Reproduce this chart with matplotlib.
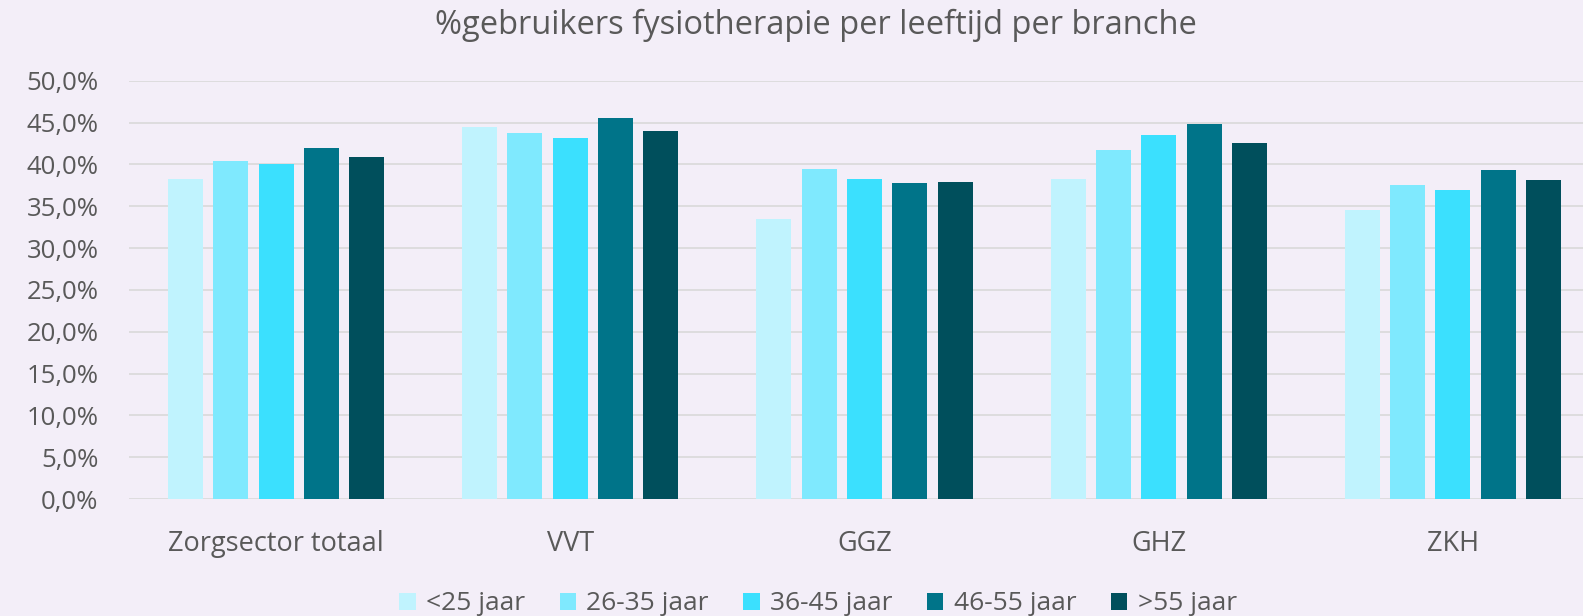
import matplotlib
matplotlib.use("Agg")
import matplotlib.pyplot as plt
import numpy as np
from matplotlib.ticker import FuncFormatter, MultipleLocator

categories = ["Zorgsector totaal", "VVT", "GGZ", "GHZ", "ZKH"]
series_names = ["<25 jaar", "26-35 jaar", "36-45 jaar", "46-55 jaar", ">55 jaar"]
lt25 = [38.2, 44.5, 33.5, 38.2, 34.5]
y26_35 = [40.4, 43.7, 39.4, 41.7, 37.5]
y36_45 = [40.0, 43.1, 38.2, 43.5, 36.9]
y46_55 = [41.9, 45.5, 37.8, 44.8, 39.3]
gt55 = [40.9, 44.0, 37.9, 42.6, 38.1]
colors = ["#C0F3FE", "#7FE9FE", "#3BE0FE", "#007489", "#004F5C"]
title = "%gebruikers fysiotherapie per leeftijd per branche"

plt.rcParams['font.family'] = ['Open Sans', 'DejaVu Sans']
bg = "#F3EEF8"
txt = "#595959"

W, H = 1583, 616
fig = plt.figure(figsize=(W / 100, H / 100), dpi=100, facecolor=bg)
ax = fig.add_axes([129 / W, (H - 499) / H, 1471 / W, 418.3 / H])
ax.set_facecolor(bg)

data = [lt25, y26_35, y36_45, y46_55, gt55]
x = np.arange(len(categories))
width = 0.119
pitch = 0.154
for i, (vals, name, c) in enumerate(zip(data, series_names, colors)):
    ax.bar(x + (i - 2) * pitch, vals, width=width, color=c, label=name, zorder=3)

ax.set_xlim(-0.5, len(categories) - 0.5)
ax.set_ylim(0, 50)
ax.yaxis.set_major_locator(MultipleLocator(5))
ax.yaxis.set_major_formatter(FuncFormatter(lambda v, p: f"{v:.1f}%".replace(".", ",")))
ax.set_xticks(x)
ax.set_xticklabels(categories)
ax.grid(axis='y', color="#D9D9D9", linewidth=1.2, zorder=0)
ax.set_axisbelow(True)
for s in ax.spines.values():
    s.set_visible(False)
ax.tick_params(axis='both', length=0, colors=txt)
ax.tick_params(axis='y', pad=22, labelsize=18.5)
ax.tick_params(axis='x', pad=22, labelsize=19.5)
for lab in ax.get_xticklabels() + ax.get_yticklabels():
    lab.set_color(txt)

fig.text(816 / W, 1 - 25 / H, title, ha='center', va='center', fontsize=23.5, color=txt)

leg = fig.legend(loc='center', bbox_to_anchor=(818 / W, 1 - 604 / H), ncol=5, frameon=False,
                 fontsize=19, handlelength=0.62, handleheight=0.62, handletextpad=0.4,
                 columnspacing=1.3, labelcolor=txt)

fig.savefig("out.png", dpi=100, facecolor=bg)
